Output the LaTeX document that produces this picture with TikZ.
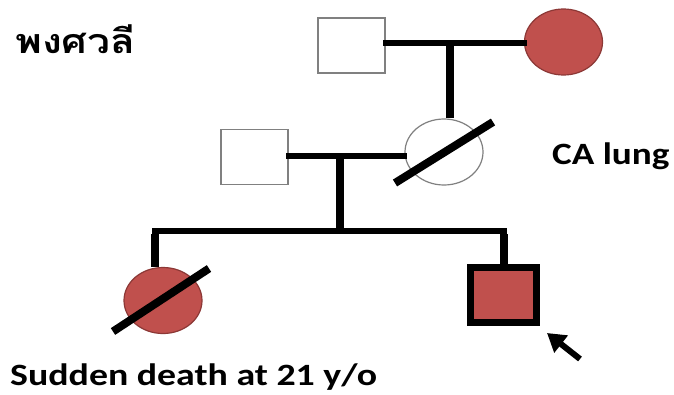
\documentclass[tikz,border=0pt]{standalone}
\usepackage{fontspec}
\setmainfont{Carlito}
\newfontfamily\thaifont[Script=Thai]{Loma}
\usetikzlibrary{arrows.meta,shapes.geometric}
\definecolor{pedred}{HTML}{C0504D}
\definecolor{pedredline}{HTML}{8C3836}
\definecolor{pedgray}{HTML}{808080}
\begin{document}
\begin{tikzpicture}[x=1pt,y=-1pt,
  male/.style={rectangle, draw=pedgray, line width=1.6pt, fill=white, minimum width=67pt, minimum height=55pt, inner sep=0pt},
  female/.style={ellipse, draw=pedgray, line width=1.2pt, fill=white, minimum width=78pt, minimum height=66pt, inner sep=0pt},
  affected/.style={fill=pedred, draw=pedredline},
  proband/.style={rectangle, draw=black, line width=7pt, fill=pedred, minimum width=66pt, minimum height=55pt, inner sep=0pt},
  hline/.style={line width=6pt, line cap=rect},
  vline/.style={line width=8pt},
  slash/.style={line width=8pt},
  lbl/.style={font=\bfseries\fontsize{31}{36}\selectfont, anchor=base west, inner sep=0pt}
]
\useasboundingbox (0,0) rectangle (674,394);
\fill[white] (0,0) rectangle (674,394);

% generation I
\node[male] (gf) at (351.5,45.5) {};
\node[female, affected] (gm) at (563.5,42) {};
\coordinate (c1) at (450,43);
\draw[hline] (gf.east |- c1) -- (gm.west |- c1);

% generation II
\node[male] (f) at (254.5,157) {};
\node[female] (m) at (444,152) {};
\draw[vline] (c1) -- (c1 |- m.north);
\coordinate (c2) at (340,156);
\draw[hline] (f.east |- c2) -- (m.west |- c2);
\draw[slash] ([shift={(-49,31)}]m.center) -- ([shift={(49,-30)}]m.center);

% sibship
\coordinate (s0) at (340,231);
\coordinate (s1) at (155,231);
\coordinate (s2) at (503.5,231);
\draw[vline] (c2) -- (s0);
\draw[hline] (s1) -- (s2);

% generation III
\node[female, affected] (d) at (163,300.5) {};
\node[proband] (p) at (503.5,295) {};
\draw[vline] ([yshift=-3pt]s1) -- (s1 |- d.north);
\draw[vline] ([yshift=-3pt]s2) -- (s2 |- p.north);
\draw[slash] ([shift={(-50,31)}]d.center) -- ([shift={(46,-32)}]d.center);

% proband arrow
\coordinate (arrtail) at (580,359);
\draw[line width=6pt, -{Triangle[length=18pt,width=21pt]}] (arrtail) -- ([shift={(7,7)}]p.south east);

% labels
\node[font=\thaifont\bfseries\fontsize{34}{40}\selectfont, anchor=base west, inner sep=0pt] (title) at (15,53) {\scalebox{1.2}[1]{พงศวลี}};
\node[lbl] (ca) at (552,164) {\scalebox{1.2}[1]{CA lung}};
\node[lbl] (sd) at (10,385) {\scalebox{1.22}[1]{Sudden death at 21 y/o}};
\end{tikzpicture}
\end{document}
